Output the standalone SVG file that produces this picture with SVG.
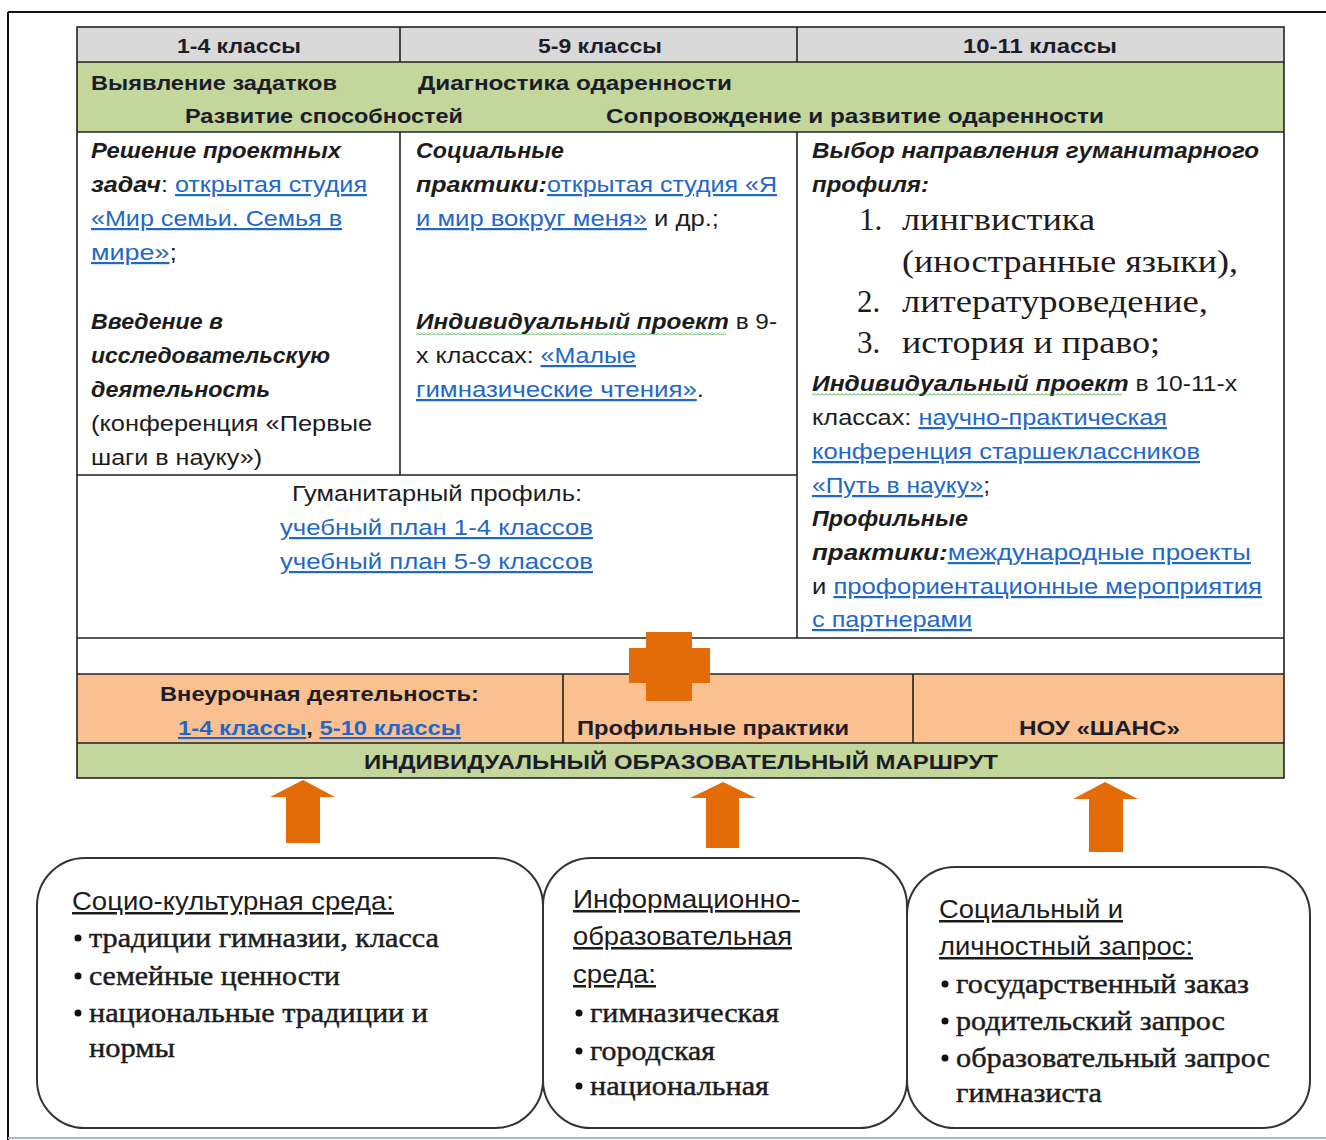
<svg xmlns="http://www.w3.org/2000/svg" width="1326" height="1140" viewBox="0 0 1326 1140">
<style>
.s{font-family:"Liberation Sans",Arial,sans-serif;font-size:22px;fill:#1c1c1c}
.h{font-family:"Liberation Sans",Arial,sans-serif;font-size:21px;font-weight:bold;fill:#1c1c2a}
.b{font-weight:bold}
.bi{font-weight:bold;font-style:italic}
.lk{fill:#1f68c8;text-decoration:underline}
.u{text-decoration:underline}
.sr{font-family:"Liberation Serif","Times New Roman",serif;fill:#1c1c1c}
.li{font-size:31px}
.bx{font-size:27px;stroke:#1c1c1c;stroke-width:0.45}
.bh{font-family:"Liberation Sans",Arial,sans-serif;font-size:25px;fill:#1c1c1c;text-decoration:underline}
.grid{stroke:#222;stroke-width:1.6;fill:none}
.box{fill:#fff;stroke:#333;stroke-width:2}
.arr{fill:#e36c09}
</style>
<defs>
<pattern id="wavy" x="0" y="0" width="4" height="3" patternUnits="userSpaceOnUse">
<path d="M0,2.5 L2,0.5 L4,2.5" fill="none" stroke="#3aa53a" stroke-width="0.9"/>
</pattern>
</defs>
<rect width="1326" height="1140" fill="#fff"/>
<g id="frame">
<line x1="8" y1="12" x2="1326" y2="12" stroke="#111" stroke-width="2"/>
<line x1="8" y1="12" x2="8" y2="1140" stroke="#111" stroke-width="2"/>
<line x1="8" y1="1138" x2="1326" y2="1138" stroke="#a9b8cc" stroke-width="2"/>
</g>
<g id="table">
<rect x="77" y="27" width="1207" height="35" fill="#d9d9d9"/>
<rect x="77" y="62" width="1207" height="70" fill="#c3d69b"/>
<rect x="77" y="132" width="1207" height="542" fill="#fff"/>
<rect x="77" y="674" width="1207" height="69" fill="#fac090"/>
<rect x="77" y="743" width="1207" height="35" fill="#c3d69b"/>
<rect class="grid" x="77" y="27" width="1207" height="751"/>
<path class="grid" d="M77 62H1284M77 132H1284M77 475H797M77 638H1284M77 674H1284M77 743H1284M400 27V62M797 27V62M400 132V475M797 132V638M563 674V743M913 674V743"/>
</g>
<g id="header">
<text class="h" x="177" y="53" textLength="124" lengthAdjust="spacingAndGlyphs">1-4 классы</text>
<text class="h" x="538" y="53" textLength="124" lengthAdjust="spacingAndGlyphs">5-9 классы</text>
<text class="h" x="963" y="53" textLength="154" lengthAdjust="spacingAndGlyphs">10-11 классы</text>
</g>
<g id="stages">
<text class="h" x="91" y="90" textLength="246" lengthAdjust="spacingAndGlyphs">Выявление задатков</text>
<text class="h" x="418" y="90" textLength="314" lengthAdjust="spacingAndGlyphs">Диагностика одаренности</text>
<text class="h" x="185" y="123" textLength="278" lengthAdjust="spacingAndGlyphs">Развитие способностей</text>
<text class="h" x="606" y="123" textLength="498" lengthAdjust="spacingAndGlyphs">Сопровождение и развитие одаренности</text>
</g>
<g id="cell-1-4">
<text class="s bi" x="91" y="158" textLength="250" lengthAdjust="spacingAndGlyphs">Решение проектных</text>
<text class="s" x="91" y="192" textLength="276" lengthAdjust="spacingAndGlyphs"><tspan class="bi">задач</tspan>: <tspan class="lk">открытая студия</tspan></text>
<text class="s lk" x="91" y="226" textLength="251" lengthAdjust="spacingAndGlyphs">«Мир семьи. Семья в</text>
<text class="s" x="91" y="260" textLength="86" lengthAdjust="spacingAndGlyphs"><tspan class="lk">мире»</tspan>;</text>
<text class="s bi" x="91" y="329" textLength="132" lengthAdjust="spacingAndGlyphs">Введение в</text>
<text class="s bi" x="91" y="363" textLength="239" lengthAdjust="spacingAndGlyphs">исследовательскую</text>
<text class="s bi" x="91" y="397" textLength="179" lengthAdjust="spacingAndGlyphs">деятельность</text>
<text class="s" x="91" y="431" textLength="281" lengthAdjust="spacingAndGlyphs">(конференция «Первые</text>
<text class="s" x="91" y="465" textLength="171" lengthAdjust="spacingAndGlyphs">шаги в науку»)</text>
</g>
<g id="cell-5-9">
<text class="s bi" x="416" y="158" textLength="148" lengthAdjust="spacingAndGlyphs">Социальные</text>
<text class="s" x="416" y="192" textLength="361" lengthAdjust="spacingAndGlyphs"><tspan class="bi">практики:</tspan><tspan class="lk">открытая студия «Я</tspan></text>
<text class="s" x="416" y="226" textLength="303" lengthAdjust="spacingAndGlyphs"><tspan class="lk">и мир вокруг меня»</tspan> и др.;</text>
<text class="s" x="416" y="329" textLength="361" lengthAdjust="spacingAndGlyphs"><tspan class="bi">Индивидуальный проект</tspan> в 9-</text>
<rect x="416" y="332" width="310" height="3" fill="url(#wavy)"/>
<text class="s" x="416" y="363" textLength="220" lengthAdjust="spacingAndGlyphs">х классах: <tspan class="lk">«Малые</tspan></text>
<text class="s" x="416" y="397" textLength="288" lengthAdjust="spacingAndGlyphs"><tspan class="lk">гимназические чтения»</tspan>.</text>
</g>
<g id="cell-10-11">
<text class="s bi" x="812" y="158" textLength="447" lengthAdjust="spacingAndGlyphs">Выбор направления гуманитарного</text>
<text class="s bi" x="812" y="192" textLength="117" lengthAdjust="spacingAndGlyphs">профиля:</text>
<text class="sr li" x="859" y="230">1.</text>
<text class="sr li" x="902" y="230" textLength="193" lengthAdjust="spacingAndGlyphs">лингвистика</text>
<text class="sr li" x="902" y="272" textLength="336" lengthAdjust="spacingAndGlyphs">(иностранные языки),</text>
<text class="sr li" x="857" y="312">2.</text>
<text class="sr li" x="902" y="312" textLength="306" lengthAdjust="spacingAndGlyphs">литературоведение,</text>
<text class="sr li" x="857" y="353">3.</text>
<text class="sr li" x="902" y="353" textLength="258" lengthAdjust="spacingAndGlyphs">история и право;</text>
<text class="s" x="812" y="391" textLength="425" lengthAdjust="spacingAndGlyphs"><tspan class="bi">Индивидуальный проект</tspan> в 10-11-х</text>
<rect x="812" y="393" width="310" height="3" fill="url(#wavy)"/>
<text class="s" x="812" y="425" textLength="355" lengthAdjust="spacingAndGlyphs">классах: <tspan class="lk">научно-практическая</tspan></text>
<text class="s lk" x="812" y="459" textLength="388" lengthAdjust="spacingAndGlyphs">конференция старшеклассников</text>
<text class="s" x="812" y="493" textLength="178" lengthAdjust="spacingAndGlyphs"><tspan class="lk">«Путь в науку»</tspan>;</text>
<text class="s bi" x="812" y="526" textLength="156" lengthAdjust="spacingAndGlyphs">Профильные</text>
<text class="s" x="812" y="560" textLength="439" lengthAdjust="spacingAndGlyphs"><tspan class="bi">практики:</tspan><tspan class="lk">международные проекты</tspan></text>
<text class="s" x="812" y="594" textLength="450" lengthAdjust="spacingAndGlyphs">и <tspan class="lk">профориентационные мероприятия</tspan></text>
<text class="s lk" x="812" y="627" textLength="160" lengthAdjust="spacingAndGlyphs">с партнерами</text>
</g>
<g id="cell-profile">
<text class="s" x="292" y="501" textLength="290" lengthAdjust="spacingAndGlyphs">Гуманитарный профиль:</text>
<text class="s lk" x="280" y="535" textLength="313" lengthAdjust="spacingAndGlyphs">учебный план 1-4 классов</text>
<text class="s lk" x="280" y="569" textLength="313" lengthAdjust="spacingAndGlyphs">учебный план 5-9 классов</text>
</g>
<g id="cell-extra">
<text class="h" x="160" y="701" textLength="319" lengthAdjust="spacingAndGlyphs">Внеурочная деятельность:</text>
<text class="h" x="178" y="735" textLength="283" lengthAdjust="spacingAndGlyphs"><tspan class="lk">1-4 классы</tspan>, <tspan class="lk">5-10 классы</tspan></text>
</g>
<g id="cell-practice">
<text class="h" x="577" y="735" textLength="272" lengthAdjust="spacingAndGlyphs">Профильные практики</text>
</g>
<g id="cell-nou">
<text class="h" x="1019" y="735" textLength="161" lengthAdjust="spacingAndGlyphs">НОУ «ШАНС»</text>
</g>
<g id="route">
<text class="h" x="364" y="769" textLength="634" lengthAdjust="spacingAndGlyphs">ИНДИВИДУАЛЬНЫЙ ОБРАЗОВАТЕЛЬНЫЙ  МАРШРУТ</text>
</g>
<g id="connectors">
<path class="arr" d="M646 632H692V648H710V683H692V701H646V683H629V648H646Z"/>
<path class="arr" d="M303 780L335 797H320V843H286V797H270Z"/>
<path class="arr" d="M723 782L756 798H739V848H706V798H690Z"/>
<path class="arr" d="M1105 782L1138 799H1123V852H1089V799H1073Z"/>
</g>
<g id="box-socio">
<rect class="box" x="37" y="858" width="506" height="270" rx="48"/>
<text class="bh" x="72" y="910" textLength="322" lengthAdjust="spacingAndGlyphs">Социо-культурная среда:</text>
<circle cx="78" cy="938" r="3.5" fill="#111"/>
<text class="sr bx" x="89" y="947" textLength="350" lengthAdjust="spacingAndGlyphs">традиции гимназии, класса</text>
<circle cx="78" cy="976" r="3.5" fill="#111"/>
<text class="sr bx" x="89" y="985" textLength="251" lengthAdjust="spacingAndGlyphs">семейные ценности</text>
<circle cx="78" cy="1013" r="3.5" fill="#111"/>
<text class="sr bx" x="89" y="1022" textLength="339" lengthAdjust="spacingAndGlyphs">национальные традиции и</text>
<text class="sr bx" x="89" y="1057" textLength="86" lengthAdjust="spacingAndGlyphs">нормы</text>
</g>
<g id="box-info">
<rect class="box" x="543" y="858" width="364" height="270" rx="48"/>
<text class="bh" x="573" y="908" textLength="227" lengthAdjust="spacingAndGlyphs">Информационно-</text>
<text class="bh" x="573" y="945" textLength="219" lengthAdjust="spacingAndGlyphs">образовательная</text>
<text class="bh" x="573" y="983" textLength="83" lengthAdjust="spacingAndGlyphs">среда:</text>
<circle cx="579" cy="1013" r="3.5" fill="#111"/>
<text class="sr bx" x="590" y="1022" textLength="189" lengthAdjust="spacingAndGlyphs">гимназическая</text>
<circle cx="579" cy="1051" r="3.5" fill="#111"/>
<text class="sr bx" x="590" y="1060" textLength="125" lengthAdjust="spacingAndGlyphs">городская</text>
<circle cx="579" cy="1086" r="3.5" fill="#111"/>
<text class="sr bx" x="590" y="1095" textLength="179" lengthAdjust="spacingAndGlyphs">национальная</text>
</g>
<g id="box-request">
<rect class="box" x="907" y="867" width="403" height="261" rx="48"/>
<text class="bh" x="939" y="918" textLength="184" lengthAdjust="spacingAndGlyphs">Социальный и</text>
<text class="bh" x="939" y="955" textLength="254" lengthAdjust="spacingAndGlyphs">личностный запрос:</text>
<circle cx="945" cy="984" r="3.5" fill="#111"/>
<text class="sr bx" x="956" y="993" textLength="293" lengthAdjust="spacingAndGlyphs">государственный заказ</text>
<circle cx="945" cy="1021" r="3.5" fill="#111"/>
<text class="sr bx" x="956" y="1030" textLength="269" lengthAdjust="spacingAndGlyphs">родительский запрос</text>
<circle cx="945" cy="1058" r="3.5" fill="#111"/>
<text class="sr bx" x="956" y="1067" textLength="314" lengthAdjust="spacingAndGlyphs">образовательный  запрос</text>
<text class="sr bx" x="956" y="1102" textLength="146" lengthAdjust="spacingAndGlyphs">гимназиста</text>
</g>
</svg>
